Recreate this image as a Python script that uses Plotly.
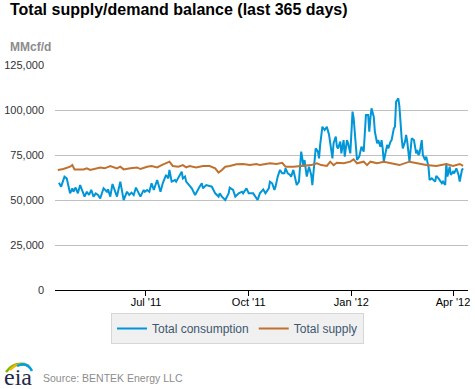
import pandas as pd
import plotly.graph_objects as go

# ---- data ----
START = "2011-04-12"   # day 0 of the 365-day window

cons_days = [2, 4, 7, 9, 12, 14, 15, 17, 19, 21,
             25, 27, 29, 31, 33, 35, 37, 39, 42, 45,
             46, 48, 50, 52, 54, 57, 60, 63, 65, 67,
             69, 71, 72, 75, 78, 79, 81, 83, 85, 87,
             90, 93, 95, 98, 100, 101, 103, 106, 107, 110,
             112, 113, 115, 116, 119, 121, 124, 126, 128, 130,
             131, 134, 137, 139, 142, 145, 146, 148, 151, 154,
             155, 158, 160, 163, 166, 167, 170, 172, 176, 180,
             182, 185, 187, 190, 191, 193, 195, 196, 198, 200,
             202, 204, 205, 207, 209, 210, 212, 213, 215, 217,
             219, 220, 221, 222, 224, 226, 228, 229, 230, 232,
             234, 235, 236, 238, 240, 242, 244, 246, 247, 248,
             250, 251, 252, 254, 255, 257, 258, 260, 261, 263,
             265, 266, 268, 269, 271, 272, 273, 275, 276, 277,
             279, 280, 281, 282, 284, 285, 287, 288, 290, 291,
             292, 293, 296, 297, 299, 300, 302, 303, 304, 306,
             307, 308, 309, 310, 312, 313, 314, 316, 317, 318,
             320, 322, 323, 324, 325, 327, 328, 330, 331, 333,
             334, 336, 339, 340, 342, 345, 346, 348, 349, 350,
             352, 353, 355, 356, 358, 360, 361, 363, 364]
cons_vals = [59600, 57400, 63000, 62000, 53700, 56500, 54600, 56900, 53700, 58300,
             51900, 54600, 52800, 55600, 51900, 53700, 52800, 50900, 56500, 54600,
             55900, 51900, 58900, 55600, 51900, 60200, 50000, 54600, 52800, 54100,
             52800, 56900, 55600, 51900, 55600, 54600, 55600, 54600, 59300, 55600,
             61100, 54600, 59300, 63900, 62000, 66700, 60200, 61100, 60200, 63900,
             65700, 62000, 63000, 60200, 58300, 56500, 52800, 55600, 57400, 59300,
             56500, 58300, 57800, 57400, 53700, 51900, 53700, 51900, 50000, 53700,
             56900, 55600, 51900, 53700, 54600, 53700, 56500, 53700, 53700, 50000,
             53700, 55900, 53700, 56500, 60200, 59300, 55600, 57400, 63000, 66700,
             64800, 64800, 67600, 64800, 63900, 63000, 66700, 63900, 58300, 60200,
             76900, 73100, 68500, 72200, 63000, 68500, 63900, 58300, 64800, 78700,
             76900, 73100, 80600, 90700, 88900, 90700, 86100, 75900, 73100, 81500,
             85200, 79600, 78700, 82400, 75900, 83300, 74100, 83300, 81500, 75900,
             99100, 95400, 78700, 72200, 74100, 77800, 79600, 76900, 88000, 97200,
             97200, 88000, 95400, 100900, 96300, 88000, 81500, 83300, 79600, 83300,
             78700, 71300, 80600, 78700, 82400, 83300, 89800, 90700, 104600, 106500,
             101900, 89800, 84300, 78700, 82400, 86100, 82400, 71300, 77800, 84300,
             83300, 75900, 77800, 75000, 75900, 83300, 75000, 72200, 74100, 68500,
             61100, 62000, 60200, 63300, 62000, 59300, 60200, 58300, 70400, 63000,
             68500, 63900, 65700, 64800, 67600, 63900, 60200, 66700, 67600]

sup_days = [1, 6, 12, 14, 16, 24, 27, 30, 39, 43,
            48, 54, 57, 60, 66, 72, 75, 81, 85, 90,
            94, 101, 104, 109, 113, 116, 119, 125, 131, 137,
            142, 145, 148, 151, 155, 161, 167, 173, 179, 182,
            191, 197, 202, 205, 212, 221, 228, 233, 237, 242,
            245, 248, 251, 257, 263, 266, 269, 275, 278, 281,
            287, 293, 299, 307, 316, 322, 331, 340, 349, 355,
            361, 364]
sup_vals = [66700, 67200, 68500, 69400, 67000, 67000, 67600, 66700, 68100, 67600,
            68900, 67600, 68500, 67000, 67600, 68100, 67200, 68500, 68900, 68100,
            69400, 71300, 68900, 68500, 69400, 68100, 68900, 68100, 68900, 68900,
            67600, 65200, 66700, 68500, 68900, 69800, 70000, 69400, 70000, 69400,
            70400, 70000, 70700, 68500, 68500, 68900, 69400, 70400, 69400, 68900,
            71300, 69400, 70700, 70400, 71300, 72600, 70400, 71300, 69400, 71300,
            70400, 71300, 70400, 69400, 71300, 70400, 69400, 68900, 70000, 68900,
            70000, 68900]

tick_dates = ["2011-07-01", "2011-10-01", "2012-01-01", "2012-04-01"]
tick_labels = ["Jul '11", "Oct '11", "Jan '12", "Apr '12"]
y_ticks = [0, 25000, 50000, 75000, 100000, 125000]

start = pd.Timestamp(START)
cons_dates = start + pd.to_timedelta(cons_days, unit="D")
sup_dates = start + pd.to_timedelta(sup_days, unit="D")

FONT = "Liberation Sans, Arial, Helvetica, sans-serif"
W, H = 475, 389
L, R, T, B = 55, 7, 65, 99
PW, PH = W - L - R, H - T - B


def px(x, y):
    """pixel position -> paper coordinates (for decorations only)"""
    return (x - L) / PW, (H - B - y) / PH


fig = go.Figure()
fig.add_trace(go.Scatter(x=cons_dates, y=cons_vals, mode="lines",
                         name="Total consumption",
                         line=dict(color="#0096D7", width=2)))
fig.add_trace(go.Scatter(x=sup_dates, y=sup_vals, mode="lines",
                         name="Total supply",
                         line=dict(color="#C0712F", width=2)))

fig.update_layout(
    width=W, height=H,
    margin=dict(l=L, r=R, t=T, b=B, autoexpand=False),
    paper_bgcolor="white", plot_bgcolor="white",
    font=dict(family=FONT, size=11, color="#333333"),
    showlegend=True,
    legend=dict(orientation="h", xref="container", yref="container",
                x=0.5, xanchor="center", y=1 - 313 / H, yanchor="top",
                bgcolor="#F0F0F0", bordercolor="#D6D6D6", borderwidth=1,
                font=dict(size=12, color="#3E576F", family=FONT),
                itemwidth=30),
)

fig.update_xaxes(type="date", range=["2011-04-10 12:00", "2012-04-14 10:00"],
                 tickvals=tick_dates, ticktext=tick_labels,
                 ticks="outside", ticklen=5, tickcolor="#000000",
                 showline=True, linecolor="#000000", linewidth=1,
                 showgrid=False, zeroline=False, automargin=False,
                 ticklabelstandoff=-3,
                 tickfont=dict(size=11, color="#000000", family=FONT))
fig.update_yaxes(range=[0, 125000], tickvals=y_ticks, tickformat=",d",
                 showgrid=True, gridcolor="#C0C0C0", gridwidth=1,
                 zeroline=False, showline=False, ticks="", automargin=False,
                 ticklabelstandoff=10,
                 tickfont=dict(size=11, color="#333333", family=FONT))

tx, ty = px(8, 10)
fig.add_annotation(text="<b>Total supply/demand balance (last 365 days)</b>",
                   xref="paper", yref="paper", x=tx, y=ty,
                   xanchor="left", yanchor="middle", showarrow=False,
                   font=dict(size=16, color="#000000", family=FONT))
ax, ay = px(8, 46.5)
fig.add_annotation(text="<b>MMcf/d</b>", xref="paper", yref="paper",
                   x=ax, y=ay, xanchor="left", yanchor="middle", showarrow=False,
                   font=dict(size=12, color="#8C8C8C", family=FONT))
sx, sy = px(41, 377.5)
fig.add_annotation(text="Source: BENTEK Energy LLC", xref="paper", yref="paper",
                   x=sx, y=sy, xanchor="left", yanchor="middle", showarrow=False,
                   font=dict(size=10.5, color="#8C8C8C", family=FONT))
ex, ey = px(18, 377)
fig.add_annotation(text="eia", xref="paper", yref="paper",
                   x=ex, y=ey, xanchor="center", yanchor="middle", showarrow=False,
                   font=dict(size=24, color="#1F2A4A",
                             family="Liberation Serif, DejaVu Serif, serif"))


def arc(p0, c, p1, color):
    a, b_, c_ = px(*p0), px(*c), px(*p1)
    fig.add_shape(type="path", xref="paper", yref="paper",
                  path=f"M{a[0]},{a[1]} Q{b_[0]},{b_[1]} {c_[0]},{c_[1]}",
                  line=dict(color=color, width=2.5))


arc((6, 372), (13, 362), (25, 364), "#7AB800")
arc((10, 370), (18, 361), (29, 366), "#F2B705")
arc((17, 366), (27, 361), (32, 371), "#00A0DF")

# the page's default 8px body margin would shift the chart; remove it
fig.write_html("out.html",
               config={"displayModeBar": False},
               post_script="document.body.style.margin='0';"
                           "document.body.style.padding='0';")
